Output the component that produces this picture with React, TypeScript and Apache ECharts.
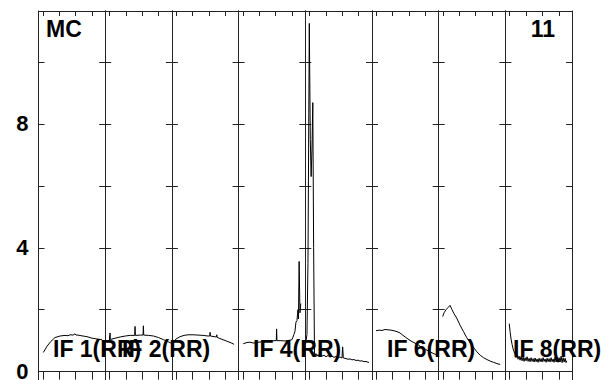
import React, { useEffect, useRef } from "react";
import * as echarts from "echarts";

// Panel labels (one per panel; empty = not shown)
const panelLabels = ["IF 1(RR)", "IF 2(RR)", "", "IF 4(RR)", "", "IF 6(RR)", "", "IF 8(RR)"];
const yLabelValues = [0, 4, 8];
const yTickValues = [2, 4, 6, 8, 10];
const xTickValues = [0.26, 1.24, 2.22, 3.2];

// Each panel: [x (panel units 0..4), value]
const panel1 = [[0.29,0.62],[0.51,0.82],[0.75,0.98],[0.99,1.1],[1.29,1.15],[1.59,1.17],[1.77,1.16],[1.89,1.19],[2.07,1.18],[2.19,1.22],[2.25,1.18],[2.37,1.18],[2.55,1.16],[2.79,1.14],[2.97,1.12],[3.21,1.08],[3.45,1.06],[3.69,1.04],[3.81,1.03]];
const panel2 = [[0.13,0.97],[0.25,1.02],[0.28,1.02],[0.29,1.25],[0.31,1.04],[0.6,1.08],[0.9,1.12],[1.2,1.15],[1.5,1.17],[1.77,1.17],[1.79,1.46],[1.81,1.17],[2.1,1.18],[2.27,1.18],[2.29,1.48],[2.31,1.18],[2.6,1.17],[2.9,1.15],[3.2,1.1],[3.5,1.03],[3.8,0.96],[3.95,0.92]];
const panel3 = [[0.08,0.96],[0.24,1.05],[0.49,1.13],[0.73,1.17],[0.97,1.19],[1.27,1.19],[1.57,1.18],[1.87,1.17],[2.17,1.15],[2.27,1.15],[2.29,1.27],[2.31,1.15],[2.53,1.13],[2.67,1.12],[2.69,1.19],[2.71,1.11],[2.83,1.08],[3.07,1.03],[3.31,0.98],[3.55,0.93],[3.73,0.88]];
const panel4 = [[0.28,0.9],[0.5,0.94],[0.68,0.95],[0.92,0.92],[1.16,0.95],[1.4,0.96],[1.64,0.98],[1.88,0.97],[2.12,1.0],[2.26,1.0],[2.28,1.38],[2.3,1.0],[2.54,1.0],[2.78,0.99],[3.02,1.01],[3.2,1.03],[3.32,1.2],[3.38,1.3],[3.44,1.6],[3.5,1.65],[3.56,2.0],[3.59,1.7],[3.63,3.56],[3.68,1.9],[3.73,2.2]];
const panel5 = [[0.02,0.9],[0.1,1.2],[0.16,3.5],[0.24,11.25],[0.3,7.5],[0.35,6.3],[0.4,7.2],[0.45,8.69],[0.5,4.0],[0.55,0.6],[0.6,0.52],[0.64,0.58],[0.7,0.5],[0.76,0.55],[0.82,0.49],[0.88,0.54],[1.0,0.5],[1.12,0.53],[1.24,0.48],[1.36,0.52],[1.48,0.47],[1.6,0.5],[1.72,0.46],[1.84,0.49],[1.96,0.45],[2.08,0.47],[2.2,0.44],[2.24,0.8],[2.28,0.44],[2.44,0.42],[2.56,0.4],[2.68,0.41],[2.8,0.38],[2.92,0.39],[3.04,0.36],[3.16,0.37],[3.28,0.34],[3.4,0.35],[3.52,0.32],[3.64,0.33],[3.76,0.3],[3.82,0.3]];
const panel6 = [[0.24,1.32],[0.42,1.34],[0.6,1.33],[0.78,1.36],[0.96,1.35],[1.14,1.34],[1.32,1.32],[1.5,1.29],[1.68,1.25],[1.86,1.17],[2.04,1.1],[2.22,1.03],[2.4,0.97],[2.58,0.92],[2.76,0.87],[2.94,0.8],[3.12,0.74],[3.3,0.69],[3.48,0.64],[3.66,0.59],[3.84,0.55]];
const panel7 = [[0.24,1.78],[0.32,1.9],[0.44,2.0],[0.56,2.07],[0.68,2.14],[0.8,2.0],[0.92,1.87],[1.08,1.73],[1.28,1.5],[1.48,1.3],[1.68,1.1],[1.89,0.93],[2.09,0.78],[2.29,0.64],[2.49,0.53],[2.69,0.45],[2.89,0.39],[3.09,0.34],[3.29,0.3],[3.49,0.26],[3.69,0.23]];
const panel8 = [[0.23,1.55],[0.28,1.3],[0.34,1.05],[0.4,0.88],[0.46,0.74],[0.52,0.64],[0.58,0.56],[0.64,0.45],[0.7,0.54],[0.76,0.4],[0.82,0.5],[0.88,0.37],[0.94,0.49],[1.0,0.35],[1.06,0.47],[1.12,0.33],[1.18,0.45],[1.24,0.35],[1.3,0.48],[1.36,0.33],[1.42,0.43],[1.48,0.32],[1.54,0.45],[1.6,0.33],[1.66,0.42],[1.72,0.31],[1.78,0.44],[1.84,0.32],[1.9,0.41],[1.96,0.3],[2.02,0.43],[2.08,0.32],[2.14,0.42],[2.2,0.31],[2.26,0.45],[2.32,0.33],[2.38,0.41],[2.44,0.3],[2.5,0.43],[2.56,0.32],[2.62,0.42],[2.68,0.31],[2.74,0.45],[2.8,0.32],[2.86,0.41],[2.92,0.3],[2.98,0.47],[3.04,0.31],[3.1,0.43],[3.16,0.3],[3.22,0.45],[3.28,0.31],[3.34,0.5],[3.4,0.29],[3.46,0.45],[3.52,0.31],[3.58,0.43],[3.64,0.29],[3.67,0.35]];
const panels = [panel1, panel2, panel3, panel4, panel5, panel6, panel7, panel8];

const FONT = '"Liberation Sans", Arial, Helvetica, sans-serif';
const LINE = "#222";

export default function App() {
  const ref = useRef<HTMLDivElement>(null);
  useEffect(() => {
    if (!ref.current) return;
    const chart = echarts.init(ref.current, undefined, { renderer: "svg" });
    const left0 = 38.5;
    const pw = 66.7;
    const top = 11;
    const height = 373;
    const yMin = -0.4;
    const yMax = 11.65;
    const grids: any[] = [];
    const xAxes: any[] = [];
    const yAxes: any[] = [];
    const series: any[] = [];
    const graphics: any[] = [];
    panels.forEach((data, i) => {
      grids.push({ left: left0 + pw * i, top, width: pw, height });
      xAxes.push({
        type: "value", gridIndex: i, position: "bottom", min: 0, max: 4,
        axisLine: { show: true, onZero: true, lineStyle: { color: LINE, width: 1 } },
        axisTick: { show: true, inside: false, length: 8, customValues: xTickValues, lineStyle: { color: LINE } },
        axisLabel: { show: false }, splitLine: { show: false },
      });
      xAxes.push({
        type: "value", gridIndex: i, position: "top", min: 0, max: 4,
        axisLine: { show: true, onZero: false, lineStyle: { color: LINE, width: 1 } },
        axisTick: { show: true, inside: true, length: 5, customValues: xTickValues, lineStyle: { color: LINE } },
        axisLabel: { show: false }, splitLine: { show: false },
      });
      yAxes.push({
        type: "value", gridIndex: i, position: "left", min: yMin, max: yMax,
        axisLine: { show: true, onZero: false, lineStyle: { color: LINE, width: 1 } },
        axisTick: { show: true, inside: true, length: 6, customValues: yTickValues, lineStyle: { color: LINE } },
        axisLabel: i === 0
          ? { show: true, customValues: yLabelValues, margin: 10, color: "#000", fontSize: 22, fontWeight: "bold", fontFamily: FONT }
          : { show: false },
        splitLine: { show: false },
      });
      yAxes.push({
        type: "value", gridIndex: i, position: "right", min: yMin, max: yMax,
        axisLine: { show: true, onZero: false, lineStyle: { color: LINE, width: 1 } },
        axisTick: { show: true, inside: true, length: 6, customValues: yTickValues, lineStyle: { color: LINE } },
        axisLabel: { show: false }, splitLine: { show: false },
      });
      series.push({
        type: "line", xAxisIndex: 2 * i, yAxisIndex: 2 * i, data,
        showSymbol: false, symbol: "none",
        lineStyle: { color: "#000", width: 1 }, z: 5,
      });
    });
    const labelX = [53, 122, 0, 253, 0, 387, 0, 513];
    panelLabels.forEach((t, i) => {
      if (!t) return;
      graphics.push({
        type: "text", x: labelX[i], y: 348.5, z: 3,
        style: { text: t, fill: "#000", fontSize: 23, fontWeight: "bold", fontFamily: FONT, align: "left", verticalAlign: "middle" },
      });
    });
    graphics.push({
      type: "text", x: 46, y: 29, z: 3,
      style: { text: "MC", fill: "#000", fontSize: 23, fontWeight: "bold", fontFamily: FONT, align: "left", verticalAlign: "middle" },
    });
    graphics.push({
      type: "text", x: 555, y: 29, z: 3,
      style: { text: "11", fill: "#000", fontSize: 23, fontWeight: "bold", fontFamily: FONT, align: "right", verticalAlign: "middle" },
    });
    chart.setOption({
      animation: false,
      backgroundColor: "#fff",
      grid: grids,
      xAxis: xAxes,
      yAxis: yAxes,
      series,
      graphic: graphics,
    });
    return () => chart.dispose();
  }, []);
  return (
    <div style={{ position: "fixed", left: 0, top: 0, width: 611, height: 380, overflow: "hidden", background: "#fff" }}>
      <div ref={ref} style={{ width: 611, height: 392 }} />
    </div>
  );
}
